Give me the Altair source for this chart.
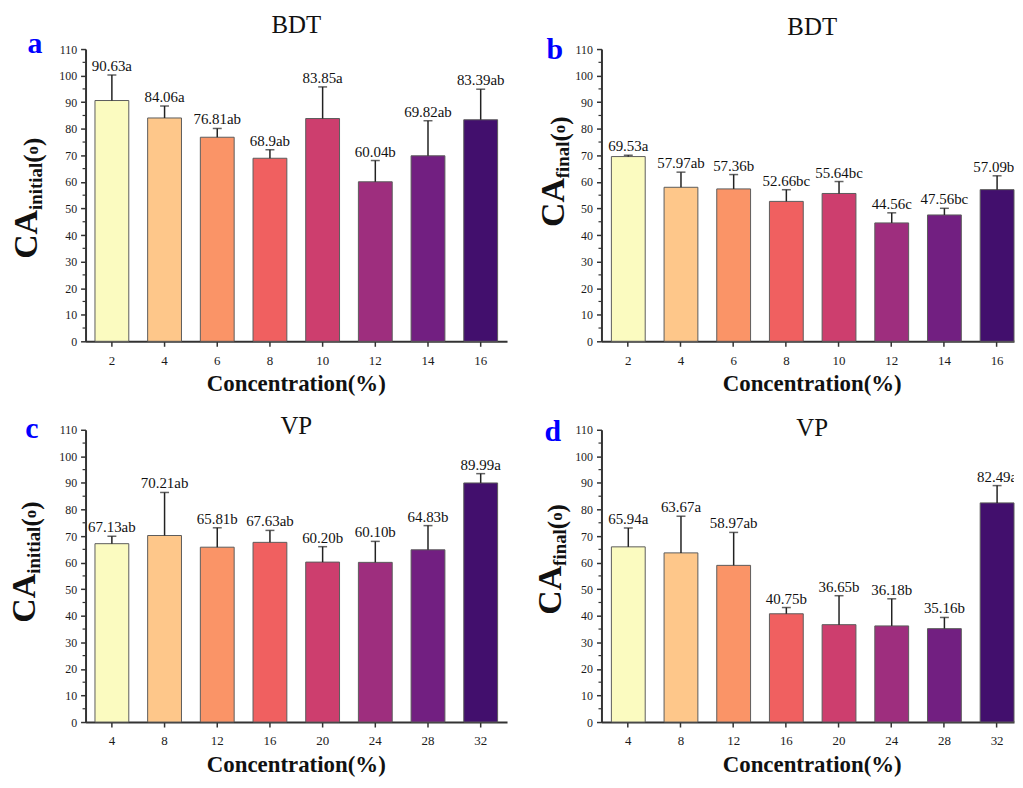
import altair as alt
import pandas as pd

FONT = "Liberation Serif"

# ---------------- data ----------------
colors = ["#FBFBC0", "#FEC78A", "#FA9467", "#F06060", "#CD3E6E", "#9E2E7E", "#721F81", "#420F6D"]

conc_bdt = [2, 4, 6, 8, 10, 12, 14, 16]
conc_vp = [4, 8, 12, 16, 20, 24, 28, 32]

a_vals = [90.63, 84.06, 76.81, 68.9, 83.85, 60.04, 69.82, 83.39]
a_err = [9.6, 4.5, 3.3, 3.2, 11.9, 8.0, 13.2, 11.5]
a_lab = ["90.63a", "84.06a", "76.81ab", "68.9ab", "83.85a", "60.04b", "69.82ab", "83.39ab"]

b_vals = [69.53, 57.97, 57.36, 52.66, 55.64, 44.56, 47.56, 57.09]
b_err = [0.5, 5.7, 5.4, 4.4, 4.5, 3.8, 2.5, 5.2]
b_lab = ["69.53a", "57.97ab", "57.36b", "52.66bc", "55.64bc", "44.56c", "47.56bc", "57.09bc"]

c_vals = [67.13, 70.21, 65.81, 67.63, 60.20, 60.10, 64.83, 89.99]
c_err = [2.8, 16.2, 7.3, 4.5, 5.8, 7.9, 9.1, 3.5]
c_lab = ["67.13ab", "70.21ab", "65.81b", "67.63ab", "60.20b", "60.10b", "64.83b", "89.99a"]

d_vals = [65.94, 63.67, 58.97, 40.75, 36.65, 36.18, 35.16, 82.49]
d_err = [7.1, 13.8, 12.4, 2.35, 10.9, 10.2, 4.2, 6.5]
d_lab = ["65.94a", "63.67a", "58.97ab", "40.75b", "36.65b", "36.18b", "35.16b", "82.49a"]

y_ticks = list(range(0, 111, 10))
y_minor = list(range(5, 110, 10))

# ---------------- layout / style ----------------
H = 294
STEP = 53.0
PI = 0.358
ONE = pd.DataFrame({"k": [0]})
SUBW = {"initial": 2.501, "final": 1.945}


def txt(s, x, y, size, bold=False, color="#111111", angle=None, align="center"):
    kw = dict(text=s, font=FONT, fontSize=size, fontWeight="bold" if bold else "normal",
              color=color, align=align, baseline="alphabetic")
    if angle is not None:
        kw["angle"] = angle
    return alt.Chart(ONE).mark_text(**kw).encode(x=alt.value(x), y=alt.value(y))


def yaxis():
    return alt.Axis(title=None, values=y_ticks, tickCount=12, labelFontSize=12, labelPadding=4,
                    tickSize=5, labelOverlap=False, labelFlush=False)


def panel(conc, vals, errs, labs, sub, title, letter, W, align, g):
    df = pd.DataFrame({"conc": conc, "val": vals, "err": errs, "lab": labs})
    n = len(conc)
    po = (W - STEP * (n - PI)) / (2 * STEP)
    xs = alt.Scale(domain=conc, paddingInner=PI, paddingOuter=po, align=align)
    ys = alt.Scale(domain=[0, 110], nice=False, zero=True)
    base = alt.Chart(df).transform_calculate(top="datum.val + datum.err")

    bars = base.mark_bar(stroke="#5c5c5c", strokeWidth=1).encode(
        x=alt.X("conc:O", scale=xs, axis=alt.Axis(title=None, labelAngle=0, labelFontSize=13,
                                                   labelPadding=8, tickSize=5)),
        y=alt.Y("val:Q", scale=ys, axis=yaxis()),
        color=alt.Color("conc:O", scale=alt.Scale(domain=conc, range=colors), legend=None),
    )
    rule = base.mark_rule(color="#222222", strokeWidth=1.5).encode(
        x="conc:O", y=alt.Y("val:Q", scale=ys, axis=yaxis()), y2="top:Q")
    cap = base.mark_tick(color="#222222", thickness=1.5, size=9).encode(
        x="conc:O", y=alt.Y("top:Q", scale=ys, axis=yaxis()))
    lbl = base.mark_text(font=FONT, fontSize=15, dy=-4, baseline="alphabetic",
                         color="#111111", clip=True).encode(
        x="conc:O", y=alt.Y("top:Q", scale=ys, axis=yaxis()), text="lab:N")
    minor = alt.Chart(pd.DataFrame({"m": y_minor})).mark_rule(color="#333333", strokeWidth=1.2).encode(
        x=alt.value(-3), x2=alt.value(0), y=alt.Y("m:Q", scale=ys, axis=yaxis()))

    # y-axis title built from pieces (CA + subscript + (o))
    bx = g["bx"]
    y = g["y0"]
    pieces = []
    pieces.append(txt("CA", bx, y, 34, True, angle=270, align="left"))
    y -= 1.444 * 34
    pieces.append(txt(sub, bx + 5, y, 19, True, angle=270, align="left"))
    y -= SUBW[sub] * 19
    pieces.append(txt("(", bx + 4, y, 25, True, angle=270, align="left"))
    y -= 0.333 * 25
    pieces.append(txt("o", bx + 1, y, 17, True, angle=270, align="left"))
    y -= 0.5 * 17
    pieces.append(txt(")", bx + 4, y, 25, True, angle=270, align="left"))

    ttl = txt(title, 212, g["tb"], 25)
    let = txt(letter, g["lx"], g["ly"], 30, True, color="#0000ff")
    xt = txt("Concentration(%)", 212, H + 50, 23, True)

    return alt.layer(bars, rule, cap, lbl, minor, *pieces, ttl, let, xt).properties(width=W, height=H)


pa = panel(conc_bdt, a_vals, a_err, a_lab, "initial", "BDT", "a", 424, 0.5,
           dict(bx=-49, y0=211, lx=-51, ly=4, tb=-16))
pb = panel(conc_bdt, b_vals, b_err, b_lab, "final", "BDT", "b", 415, 1.0,
           dict(bx=-38, y0=179, lx=-47, ly=10, tb=-14))
pc = panel(conc_vp, c_vals, c_err, c_lab, "initial", "VP", "c", 424, 0.5,
           dict(bx=-51, y0=194, lx=-54, ly=8, tb=4))
pd_ = panel(conc_vp, d_vals, d_err, d_lab, "final", "VP", "d", 415, 1.0,
            dict(bx=-41, y0=186, lx=-49, ly=11, tb=6))

chart = alt.concat(
    pa, pb, pc, pd_, columns=2, bounds="flush", spacing={"row": 89, "column": 95}
).resolve_scale(
    color="independent", x="independent", y="independent"
).properties(
    padding={"left": 0, "top": 3, "right": 0, "bottom": 0}
).configure_view(stroke=None).configure_axis(
    domainColor="#333333", domainWidth=2, tickColor="#333333", tickWidth=1.5,
    labelFont=FONT, labelColor="#1a1a1a", grid=False
)

chart.save("out.html", embed_options={"renderer": "svg", "actions": False})
